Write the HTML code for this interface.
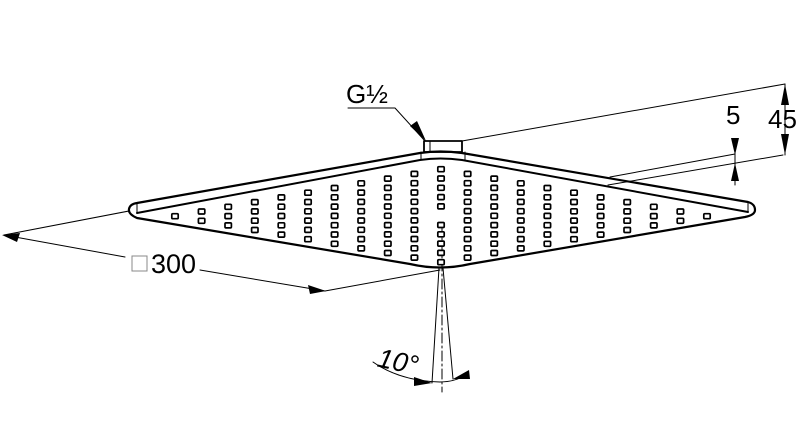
<!DOCTYPE html>
<html><head><meta charset="utf-8"><style>
html,body{margin:0;padding:0;background:#fff;width:800px;height:421px;overflow:hidden}
svg{display:block}
text{font-family:"Liberation Sans",sans-serif;fill:#000}
</style></head><body>
<svg width="800" height="421" viewBox="0 0 800 421" xmlns="http://www.w3.org/2000/svg">
<g fill="none" stroke="#000" stroke-linecap="round" stroke-linejoin="round">
<path d="M137,203 L420,153 Q440,150 462,153 L748,202 Q755,204 755,210 Q755,215 745,217 L470,264 Q440,271 410,264 L137,218 Q128,214 129,209 Q130,204 137,203 Z" stroke-width="2.2"/>
<path d="M137,213 L420,160 Q440,157 462,160 L748,212" stroke-width="2"/>
<path d="M137,203 L137,213 M748,202 L748,212" stroke-width="1"/>
<rect x="424" y="141" width="38" height="11" stroke-width="1.8"/>
<path d="M430,141 V152 M421,152 V160 M465,152 V160" stroke-width="1"/>
<g stroke-width="1">
<path d="M462,141 L785,84"/>
<path d="M610,177 L735,154"/>
<path d="M608,185 L783,155"/>
<path d="M129,211 L4,235"/>
<path d="M4,235 L125,257"/>
<path d="M200,270 L325,291"/>
<path d="M440,270 L325,291"/>
<path d="M348,108 L395,108 L425,141"/>
<path d="M785,84 V155"/>
<path d="M735,143 V185"/>
<path d="M439,268 L432,383 M443,268 L453,379"/>
<path d="M442,225 V392" stroke-dasharray="10,3,2,3"/>
<path d="M373,362 Q400,381 440,382 Q455,382 468,374"/>
</g>
</g>
<g fill="#000">
<polygon points="2,235 20,233 17,242"/>
<polygon points="326,291 308,285 310,294"/>
<polygon points="426,141 410,126 417,121"/>
<polygon points="785,84 781,105 789,105"/>
<polygon points="785,155 781,134 789,134"/>
<polygon points="735,155 731,138 739,138"/>
<polygon points="735,163 731,181 739,181"/>
<polygon points="432,383 414,377 414,386"/>
<polygon points="453,379 469,370 470,379"/>
</g>
<g id="grid" fill="#fff" stroke="#000" stroke-width="1.7"></g>
<text x="346" y="103" font-size="26">G½</text>
<text x="726" y="124" font-size="26">5</text>
<text x="768" y="128" font-size="26">45</text>
<rect x="132" y="256" width="15" height="15" fill="none" stroke="#888" stroke-width="1"/>
<text x="151" y="273" font-size="27">300</text>
<text x="378" y="370" font-size="27" font-style="italic" transform="rotate(12 395 360)">10°</text>
</svg>
<script>
(function(){var g=document.getElementById('grid'),s='';
for(var k=0;k<=20;k++){var m=k<=10?k:20-k;var x=175+26.6*k;var top=216-4.7*m;
for(var j=0;j<=m;j++){if(k==10&&j==5)continue;var y=top+9.3*j;
s+='<rect x="'+(x-3.2).toFixed(1)+'" y="'+(y-2.3).toFixed(1)+'" width="6.4" height="5" rx="1"/>';}}
g.innerHTML=s;})();
</script>
</body></html>
